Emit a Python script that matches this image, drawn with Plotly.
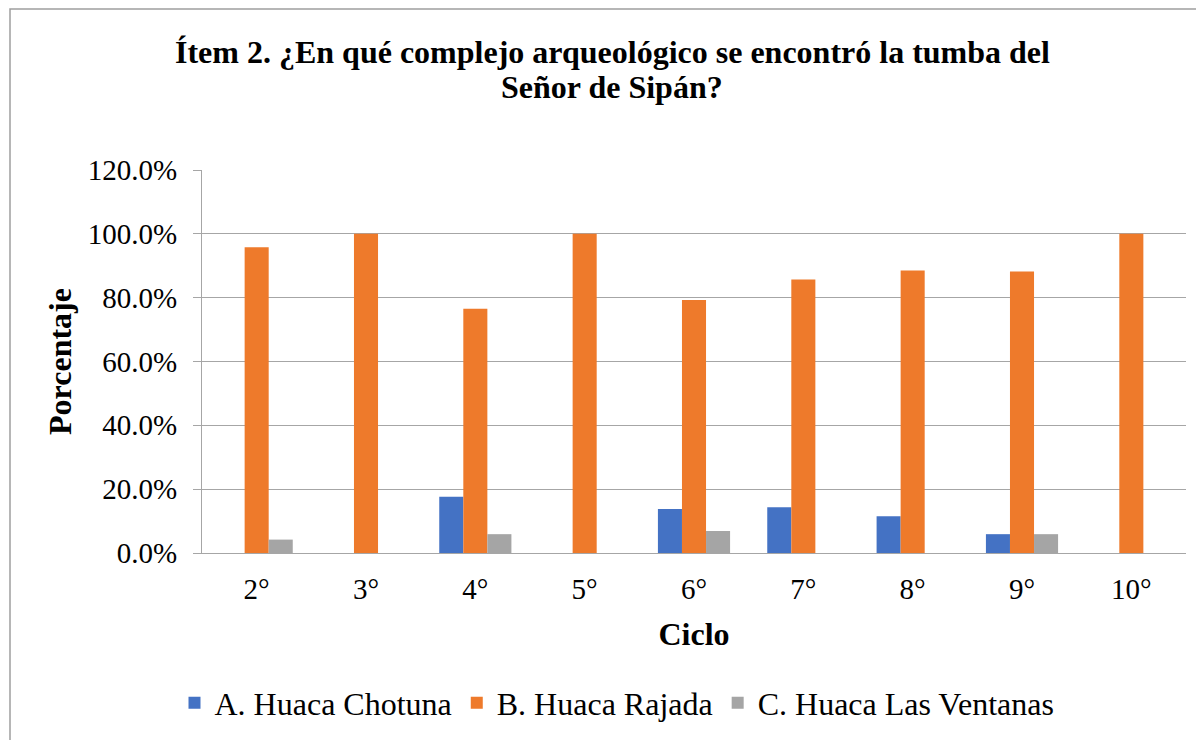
import plotly.graph_objects as go

# data
ciclos = ["2°", "3°", "4°", "5°", "6°", "7°", "8°", "9°", "10°"]
chotuna = [0.0, 0.0, 0.176, 0.0, 0.138, 0.143, 0.115, 0.059, 0.0]
rajada = [0.958, 1.0, 0.765, 1.0, 0.793, 0.857, 0.885, 0.882, 1.0]
ventanas = [0.042, 0.0, 0.059, 0.0, 0.069, 0.0, 0.0, 0.059, 0.0]
y_ticks = [0, 0.2, 0.4, 0.6, 0.8, 1.0, 1.2]
title_lines = ["Ítem 2. ¿En qué complejo arqueológico se encontró la tumba del",
               "Señor de Sipán?"]

FONT = "Liberation Serif, Times New Roman, serif"
GRID = "#A6A6A6"

# plot area in figure pixels (page has an 8px body margin)
L, T, W, H = 194, 162, 984, 383

fig = go.Figure()
fig.add_trace(go.Bar(name="A. Huaca Chotuna", x=ciclos, y=chotuna,
                     marker=dict(color="#4472C4", line=dict(width=0))))
fig.add_trace(go.Bar(name="B. Huaca Rajada", x=ciclos, y=rajada,
                     marker=dict(color="#EE7A2B", line=dict(width=0))))
fig.add_trace(go.Bar(name="C. Huaca Las Ventanas", x=ciclos, y=ventanas,
                     marker=dict(color="#A5A5A5", line=dict(width=0))))

fig.update_layout(
    width=1204, height=740,
    margin=dict(l=L, r=1204 - L - W, t=T, b=740 - T - H),
    paper_bgcolor="white", plot_bgcolor="white",
    barmode="group", bargap=0.34, bargroupgap=0,
    font=dict(family=FONT, size=29, color="black"),
    legend=dict(
        orientation="h", x=609 / 1204, xref="container", xanchor="center",
        y=1 - 695 / 740, yref="container", yanchor="middle",
        font=dict(family=FONT, size=32, color="black"), traceorder="normal",
    ),
)

# title as two separate lines for tight spacing
for txt, yc in zip(title_lines, [44, 79]):
    fig.add_annotation(text=f"<b>{txt}</b>", xref="paper", yref="paper",
                       x=(604 - L) / W, y=(T + H - yc) / H,
                       xanchor="center", yanchor="middle", showarrow=False,
                       font=dict(family=FONT, size=32, color="black"))

fig.update_xaxes(
    showline=True, linecolor=GRID, linewidth=1,
    ticks="", tickfont=dict(size=29), ticklabelstandoff=10,
    title=dict(text="<b>Ciclo</b>", font=dict(size=32), standoff=18),
)
fig.update_yaxes(
    range=[0, 1.2], tickvals=y_ticks, tickformat=".1%",
    showline=True, linecolor=GRID, linewidth=1,
    ticks="outside", ticklen=8, tickcolor=GRID,
    showgrid=True, gridcolor=GRID, gridwidth=1, zeroline=False,
    tickfont=dict(size=29), ticklabelstandoff=10,
    title=dict(text="<b>Porcentaje</b>", font=dict(size=32), standoff=6),
)

# outer chart border
fig.add_shape(type="rect", xref="paper", yref="paper",
              x0=(2 - L) / W, x1=(1220 - L) / W,
              y0=(T + H - 760) / H, y1=(T + H - 1) / H,
              line=dict(color="#9E9E9E", width=1.5), layer="below")

fig.write_html("out.html")
